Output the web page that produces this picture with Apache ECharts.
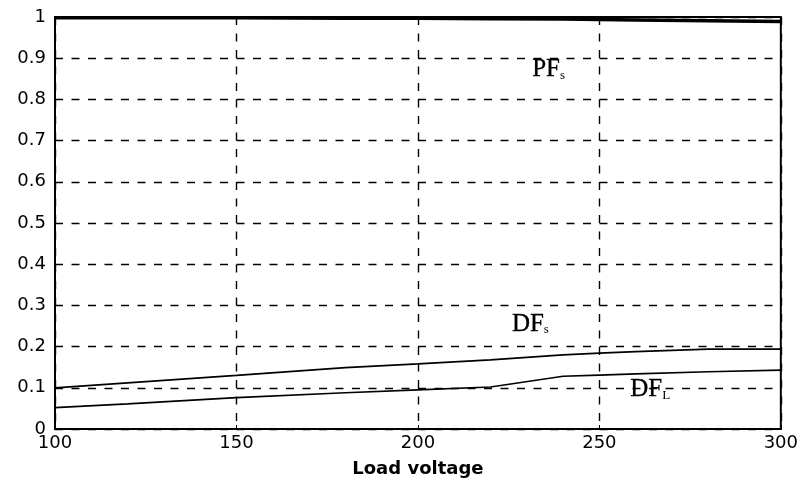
<!DOCTYPE html>
<html>
<head>
<meta charset="utf-8">
<script src="https://cdn.jsdelivr.net/npm/echarts@6/dist/echarts.min.js"></script>
<style>
  html, body { margin: 0; padding: 0; background: #fff; }
  #chart { width: 801px; height: 485px; }
</style>
</head>
<body>
<div id="chart"></div>
<script>
// Load voltage samples (V)
const voltage = [100, 120, 150, 180, 200, 220, 240, 250, 260, 280, 300];
// Source power factor
const pfS = [0.998, 0.998, 0.998, 0.997, 0.997, 0.996, 0.995, 0.994, 0.993, 0.991, 0.989];
// Source distortion factor
const dfS = [0.100, 0.112, 0.130, 0.149, 0.158, 0.168, 0.180, 0.184, 0.188, 0.194, 0.194];
// Load distortion factor
const dfL = [0.052, 0.061, 0.076, 0.088, 0.095, 0.102, 0.128, 0.131, 0.134, 0.139, 0.143];

const yTicks = [0, 0.1, 0.2, 0.3, 0.4, 0.5, 0.6, 0.7, 0.8, 0.9, 1];
const xTicks = [100, 150, 200, 250, 300];

// Curve annotations: [x, y, base, subscript]
const curveLabels = [
  [236, 0.872, 'PF', 's'],
  [231, 0.255, 'DF', 's'],
  [264, 0.096, 'DF', 'L']
];

const pairs = (xs, ys) => xs.map((x, i) => [x, ys[i]]);
const dash = { color: '#000', type: [8, 8.5], width: 1.4 };

const chart = echarts.init(document.getElementById('chart'));
chart.setOption({
  backgroundColor: '#fff',
  animation: false,
  grid: { left: 55, right: 19, top: 17, bottom: 56, show: true, borderColor: '#000', borderWidth: 2 },
  xAxis: {
    type: 'value', min: 100, max: 300, interval: 50,
    name: 'Load voltage', nameLocation: 'middle', nameGap: 31,
    nameTextStyle: { fontFamily: 'DejaVu Sans', fontSize: 18, fontWeight: 'bold', color: '#000' },
    axisLine: { show: true, lineStyle: { color: '#000', width: 2 } },
    axisTick: { show: true, inside: true, length: 4, lineStyle: { color: '#000' } },
    axisLabel: {
      fontFamily: 'DejaVu Sans', fontSize: 18, color: '#000', margin: 5,
      formatter: v => (xTicks.includes(v) ? String(v) : '')
    },
    splitLine: { show: true, lineStyle: dash }
  },
  yAxis: {
    type: 'value', min: 0, max: 1, interval: 0.1,
    axisLine: { show: true, lineStyle: { color: '#000', width: 2 } },
    axisTick: { show: true, inside: true, length: 4, lineStyle: { color: '#000' } },
    axisLabel: {
      fontFamily: 'DejaVu Sans', fontSize: 18, color: '#000', margin: 9,
      formatter: v => {
        const t = yTicks.find(k => Math.abs(k - v) < 1e-6);
        return t === undefined ? '' : String(t);
      }
    },
    splitLine: { show: true, lineStyle: dash }
  },
  series: [
    {
      name: 'PFs', type: 'line', data: pairs(voltage, pfS), symbol: 'none',
      lineStyle: { color: '#000', width: 3.5 }, z: 3
    },
    {
      name: 'DFs', type: 'line', data: pairs(voltage, dfS), symbol: 'none',
      lineStyle: { color: '#000', width: 1.7 }, z: 3
    },
    {
      name: 'DFL', type: 'line', data: pairs(voltage, dfL), symbol: 'none',
      lineStyle: { color: '#000', width: 1.7 }, z: 3
    },
    {
      name: 'labels', type: 'scatter', symbolSize: 0, silent: true, z: 4,
      itemStyle: { opacity: 1, color: '#000' },
      data: curveLabels.map(l => ({ value: [l[0], l[1]], base: l[2], sub: l[3] })),
      label: {
        show: true, position: 'inside',
        formatter: p => '{b|' + p.data.base + '}{s|' + p.data.sub + '}',
        rich: {
          b: { fontFamily: 'Liberation Serif', fontSize: 25, color: '#000', textBorderColor: '#000', textBorderWidth: 0.3 },
          s: { fontFamily: 'Liberation Serif', fontSize: 13, color: '#000', verticalAlign: 'bottom', padding: [9, 0, 0, 0] }
        }
      }
    }
  ]
});
</script>
</body>
</html>
